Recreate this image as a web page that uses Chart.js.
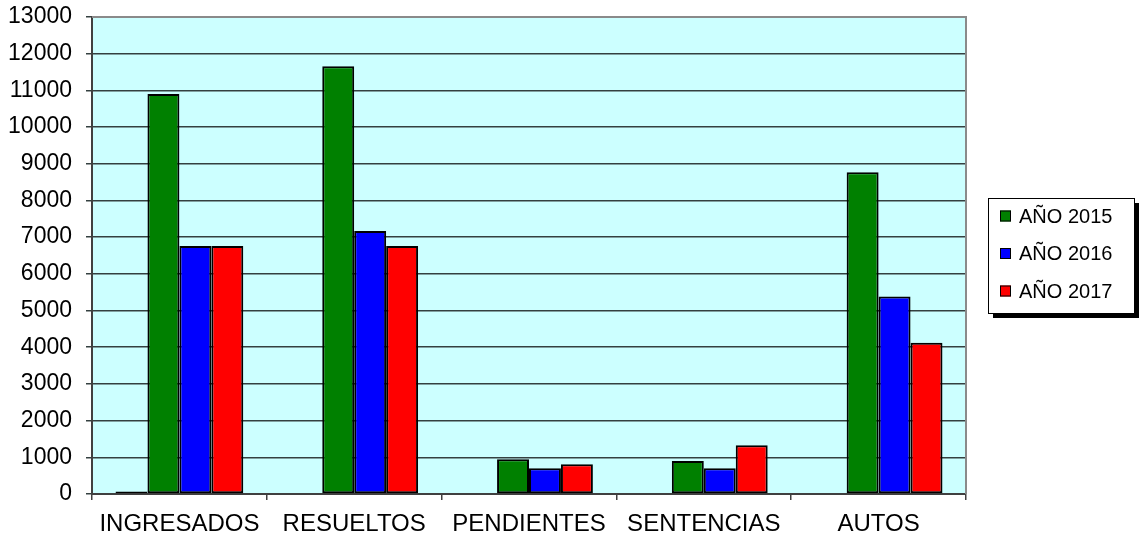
<!DOCTYPE html>
<html>
<head>
<meta charset="utf-8">
<script src="https://cdn.jsdelivr.net/npm/chart.js@4/dist/chart.umd.min.js"></script>
<style>
  html, body { margin: 0; padding: 0; background: #fff; }
  #wrap { width: 1139px; height: 539px; }
</style>
</head>
<body>
<div id="wrap"><canvas id="grafico"></canvas></div>
<script>
// datos
const categorias = ['INGRESADOS', 'RESUELTOS', 'PENDIENTES', 'SENTENCIAS', 'AUTOS'];
const serieSinNombre = [70, 0, 0, 0, 0];
const anio2015 = [10900, 11660, 950, 900, 8770];
const anio2016 = [6760, 7170, 700, 700, 5380];
const anio2017 = [6760, 6760, 810, 1330, 4120];
const etiquetas = ['AÑO 2015', 'AÑO 2016', 'AÑO 2017'];
const yMax = 13000;
const yPaso = 1000;

Chart.defaults.font.family = '"Liberation Sans", Arial, sans-serif';
Chart.defaults.color = '#000';

// fondo celeste del area de trazado + borde gris
const fondoPlot = {
    id: 'fondoPlot',
    beforeDraw(chart) {
        const { ctx, chartArea: a } = chart;
        ctx.save();
        ctx.fillStyle = '#CCFFFF';
        ctx.fillRect(a.left, a.top, a.right - a.left, a.bottom - a.top);
        ctx.restore();
    },
    afterDraw(chart) {
        const { ctx, chartArea: a } = chart;
        ctx.save();
        ctx.strokeStyle = '#8a8a8a';
        ctx.lineWidth = 2;
        ctx.beginPath();
        ctx.moveTo(a.left, a.top);
        ctx.lineTo(a.right, a.top);
        ctx.lineTo(a.right, a.bottom);
        ctx.stroke();
        ctx.restore();
    }
};

// leyenda con recuadro y sombra, como la del original
const leyendaCaja = {
    id: 'leyendaCaja',
    afterDraw(chart) {
        const ctx = chart.ctx;
        const x = 988, y = 198, w = 146, h = 115;
        ctx.save();
        ctx.fillStyle = '#000';
        ctx.fillRect(x + 5, y + 5, w, h);
        ctx.fillStyle = '#fff';
        ctx.fillRect(x, y, w, h);
        ctx.strokeStyle = '#000';
        ctx.lineWidth = 1;
        ctx.strokeRect(x + 0.5, y + 0.5, w, h);
        const items = chart.data.datasets.filter(d => d.label);
        items.forEach((d, i) => {
            const cy = 216 + i * 37.5;
            ctx.fillStyle = d.backgroundColor;
            ctx.fillRect(1000, cy - 5.5, 11, 11);
            ctx.strokeStyle = '#000';
            ctx.lineWidth = 1;
            ctx.strokeRect(1000.5, cy - 5, 10, 10);
            ctx.fillStyle = '#000';
            ctx.font = '20px "Liberation Sans", Arial, sans-serif';
            ctx.textBaseline = 'middle';
            ctx.textAlign = 'left';
            ctx.fillText(d.label, 1019, cy + 1);
        });
        ctx.restore();
    }
};

const barra = (label, data, color) => ({
    label: label,
    data: data,
    backgroundColor: color,
    borderColor: '#000',
    borderWidth: 2,
    borderSkipped: false,
    categoryPercentage: 0.731,
    barPercentage: 1
});

new Chart(document.getElementById('grafico'), {
    type: 'bar',
    data: {
        labels: categorias,
        datasets: [
            barra('', serieSinNombre, '#000000'),
            barra(etiquetas[0], anio2015, '#008000'),
            barra(etiquetas[1], anio2016, '#0000FF'),
            barra(etiquetas[2], anio2017, '#FF0000')
        ]
    },
    options: {
        responsive: true,
        maintainAspectRatio: false,
        animation: false,
        layout: { padding: { top: 17, right: 173, left: 0, bottom: 0 } },
        plugins: {
            legend: { display: false },
            tooltip: { enabled: false }
        },
        scales: {
            x: {
                afterFit(s) {
                    s.height = 45;
                    s.paddingLeft = 0;
                    s.paddingRight = 0;
                },
                grid: {
                    offset: true,
                    drawOnChartArea: false,
                    drawTicks: true,
                    tickLength: 6,
                    color: '#404040',
                    lineWidth: 1.5
                },
                border: { color: '#404040', width: 2 },
                ticks: { font: { size: 24 }, padding: 10, color: '#000', maxRotation: 0 }
            },
            y: {
                min: 0,
                max: yMax,
                afterFit(s) {
                    s.width = 92;
                    s.paddingTop = 0;
                    s.paddingBottom = 0;
                },
                grid: {
                    color: '#344040',
                    lineWidth: 1.5,
                    tickLength: 6
                },
                border: { color: '#404040', width: 2 },
                ticks: {
                    stepSize: yPaso,
                    font: { size: 23 },
                    padding: 14,
                    color: '#000',
                    callback: v => String(v)
                }
            }
        }
    },
    plugins: [fondoPlot, leyendaCaja]
});
</script>
</body>
</html>
